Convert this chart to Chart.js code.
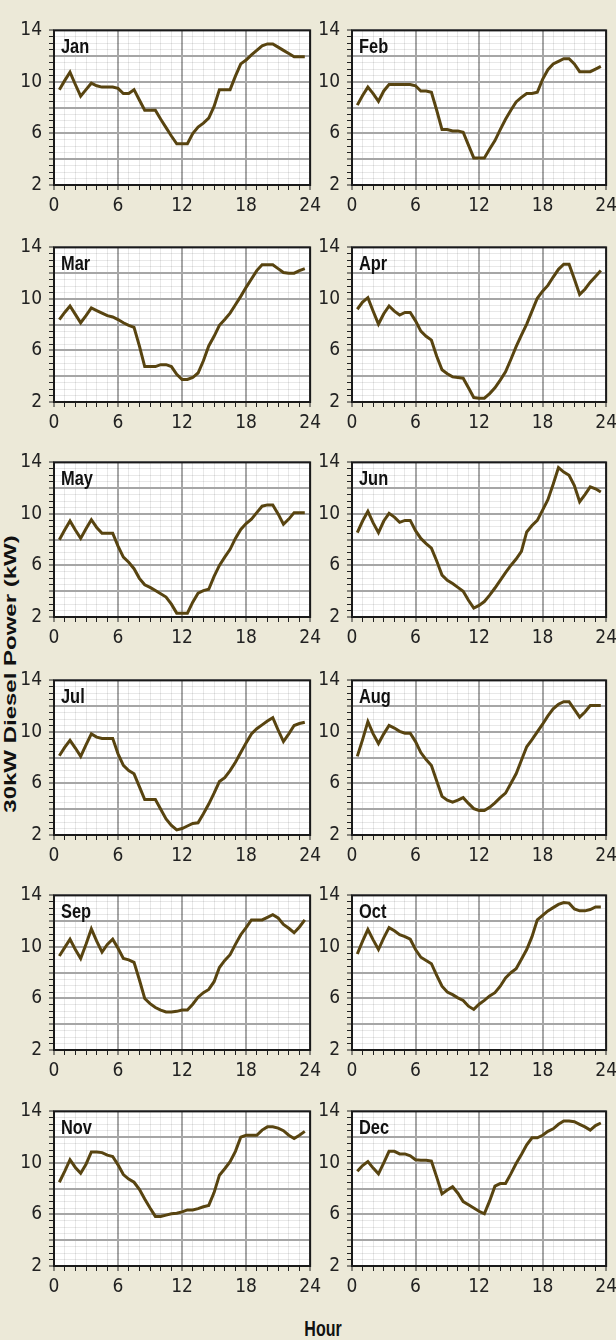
<!DOCTYPE html>
<html>
<head>
<meta charset="utf-8">
<script src="https://cdn.jsdelivr.net/npm/chart.js@4.4.1/dist/chart.umd.min.js"></script>
<style>
  html, body { margin: 0; padding: 0; }
  body {
    width: 616px; height: 1340px; background: #ECE9D8;
    position: relative; overflow: hidden;
    font-family: 'Liberation Sans', Arial, sans-serif;
  }
  canvas { position: absolute; }
  .ytitle {
    position: absolute; left: 11px; top: 674px;
    transform: translate(-50%, -50%) rotate(-90deg) scale(1.5, 1);
    font-weight: bold; font-size: 16px; white-space: nowrap; color: #111;
  }
  .xtitle {
    position: absolute; left: 323px; top: 1329px;
    transform: translate(-50%, -50%) scale(1, 1.4);
    font-weight: bold; font-size: 16px; white-space: nowrap; color: #111;
  }
</style>
</head>
<body>
<div class="ytitle">30kW Diesel Power (kW)</div>
<div class="xtitle">Hour</div>
<script>
// half-hour sample positions (hour of day)
const hours = [0.5, 1, 1.5, 2, 2.5, 3, 3.5, 4, 4.5, 5, 5.5, 6, 6.5, 7, 7.5, 8,
  8.5, 9, 9.5, 10, 10.5, 11, 11.5, 12, 12.5, 13, 13.5, 14, 14.5, 15, 15.5, 16,
  16.5, 17, 17.5, 18, 18.5, 19, 19.5, 20, 20.5, 21, 21.5, 22, 22.5, 23, 23.5];

const months = ["Jan", "Feb", "Mar", "Apr", "May", "Jun",
  "Jul", "Aug", "Sep", "Oct", "Nov", "Dec"];

// diesel output in kW
const jan = [9.4, 10.1, 10.75, 9.8, 8.9, 9.4, 9.9, 9.7, 9.6, 9.6, 9.6, 9.5, 9.1, 9.1, 9.4,
  8.6, 7.8, 7.8, 7.8, 7.1, 6.45, 5.8, 5.2, 5.2, 5.2, 6.0, 6.5, 6.8, 7.2, 8.1, 9.4,
  9.4, 9.4, 10.45, 11.4, 11.7, 12.1, 12.45, 12.8, 12.95, 12.95, 12.7, 12.45, 12.2, 11.95, 11.95, 11.95];
const feb = [8.2, 8.95, 9.6, 9.1, 8.5, 9.3, 9.8, 9.8, 9.8, 9.8, 9.8, 9.7, 9.3, 9.3, 9.2,
  7.8, 6.3, 6.3, 6.2, 6.2, 6.1, 5.1, 4.1, 4.1, 4.1, 4.8, 5.45, 6.3, 7.1, 7.8, 8.45,
  8.8, 9.1, 9.1, 9.2, 10.2, 10.95, 11.4, 11.6, 11.8, 11.8, 11.4, 10.8, 10.8, 10.8, 11.0, 11.2];
const mar = [8.4, 8.95, 9.45, 8.8, 8.15, 8.7, 9.3, 9.1, 8.9, 8.7, 8.6, 8.4, 8.15, 7.95, 7.8,
  6.35, 4.75, 4.75, 4.75, 4.9, 4.9, 4.75, 4.15, 3.75, 3.75, 3.9, 4.25, 5.2, 6.35, 7.1, 7.95,
  8.4, 8.9, 9.55, 10.2, 10.9, 11.55, 12.2, 12.65, 12.65, 12.65, 12.35, 12.05, 12.0, 12.0, 12.2, 12.35];
const apr = [9.2, 9.75, 10.1, 9.05, 8.05, 8.85, 9.45, 9.05, 8.75, 8.95, 8.95, 8.3, 7.5, 7.1, 6.8,
  5.55, 4.5, 4.2, 3.95, 3.9, 3.85, 3.1, 2.35, 2.3, 2.3, 2.65, 3.1, 3.7, 4.35, 5.3, 6.3,
  7.2, 8.05, 9.05, 10.05, 10.6, 11.05, 11.7, 12.3, 12.7, 12.7, 11.55, 10.35, 10.75, 11.3, 11.75, 12.2];
const may = [8.0, 8.75, 9.45, 8.75, 8.1, 8.85, 9.55, 8.95, 8.5, 8.5, 8.5, 7.5, 6.65, 6.25, 5.75,
  5.0, 4.5, 4.3, 4.05, 3.8, 3.55, 3.0, 2.3, 2.3, 2.3, 3.15, 3.85, 4.05, 4.15, 5.15, 6.0,
  6.65, 7.25, 8.1, 8.8, 9.25, 9.6, 10.1, 10.6, 10.7, 10.7, 10.0, 9.2, 9.6, 10.1, 10.1, 10.1];
const jun = [8.55, 9.45, 10.2, 9.3, 8.55, 9.45, 10.05, 9.75, 9.35, 9.5, 9.5, 8.7, 8.1, 7.7, 7.35,
  6.35, 5.25, 4.85, 4.6, 4.3, 4.0, 3.3, 2.7, 2.9, 3.2, 3.7, 4.25, 4.85, 5.45, 6.0, 6.5,
  7.1, 8.6, 9.1, 9.5, 10.3, 11.1, 12.3, 13.6, 13.25, 13.0, 12.2, 10.95, 11.5, 12.1, 11.95, 11.7];
const jul = [8.15, 8.8, 9.35, 8.75, 8.1, 9.0, 9.85, 9.6, 9.5, 9.5, 9.5, 8.3, 7.4, 7.0, 6.75,
  5.75, 4.75, 4.75, 4.75, 4.0, 3.25, 2.75, 2.4, 2.5, 2.7, 2.9, 2.95, 3.65, 4.4, 5.25, 6.15,
  6.45, 7.0, 7.65, 8.4, 9.15, 9.85, 10.25, 10.55, 10.85, 11.1, 10.15, 9.25, 9.85, 10.5, 10.65, 10.75];
const aug = [8.1, 9.4, 10.8, 9.85, 9.1, 9.85, 10.5, 10.3, 10.05, 9.9, 9.9, 9.25, 8.4, 7.85, 7.4,
  6.2, 5.0, 4.7, 4.55, 4.7, 4.9, 4.45, 4.05, 3.9, 3.9, 4.15, 4.5, 4.9, 5.25, 6.0, 6.75,
  7.8, 8.85, 9.4, 10.0, 10.6, 11.25, 11.8, 12.15, 12.35, 12.35, 11.75, 11.15, 11.55, 12.05, 12.05, 12.05];
const sep = [9.3, 9.95, 10.6, 9.8, 9.1, 10.2, 11.4, 10.45, 9.6, 10.2, 10.6, 9.9, 9.1, 9.0, 8.8,
  7.45, 6.0, 5.6, 5.3, 5.1, 4.95, 4.95, 5.0, 5.1, 5.1, 5.55, 6.1, 6.45, 6.7, 7.3, 8.4,
  8.95, 9.4, 10.2, 10.95, 11.5, 12.1, 12.1, 12.1, 12.3, 12.5, 12.25, 11.75, 11.45, 11.1, 11.55, 12.1];
const oct = [9.45, 10.45, 11.35, 10.55, 9.8, 10.7, 11.5, 11.25, 10.95, 10.8, 10.6, 9.8, 9.2, 8.95, 8.7,
  7.8, 6.95, 6.5, 6.3, 6.05, 5.85, 5.4, 5.15, 5.55, 5.85, 6.2, 6.45, 6.95, 7.6, 8.0, 8.3,
  9.05, 9.8, 10.8, 12.1, 12.45, 12.8, 13.05, 13.3, 13.45, 13.4, 12.95, 12.8, 12.8, 12.9, 13.1, 13.1];
const nov = [8.5, 9.35, 10.25, 9.65, 9.2, 9.9, 10.85, 10.85, 10.8, 10.6, 10.5, 9.85, 9.1, 8.75, 8.5,
  7.95, 7.2, 6.5, 5.85, 5.85, 5.95, 6.05, 6.1, 6.2, 6.35, 6.35, 6.45, 6.6, 6.7, 7.7, 9.05,
  9.55, 10.1, 10.9, 12.0, 12.15, 12.15, 12.15, 12.55, 12.8, 12.8, 12.7, 12.5, 12.15, 11.9, 12.15, 12.45];
const dec = [9.35, 9.8, 10.1, 9.6, 9.15, 10.0, 10.9, 10.9, 10.7, 10.7, 10.55, 10.25, 10.2, 10.2, 10.15,
  8.9, 7.6, 7.9, 8.15, 7.65, 7.0, 6.75, 6.5, 6.25, 6.05, 7.05, 8.2, 8.4, 8.4, 9.15, 9.95,
  10.65, 11.4, 11.95, 11.95, 12.15, 12.45, 12.65, 13.0, 13.25, 13.25, 13.2, 13.0, 12.8, 12.55, 12.9, 13.1];

const series = [jan, feb, mar, apr, may, jun, jul, aug, sep, oct, nov, dec];

// layout of the 6x2 grid (top edge of each plot area)
const rowTops = [24, 241, 456, 674, 889, 1105];
const plotHeight = 161;

const lineColor = "#584410";
const majorGrid = "#A6A6A6";
const minorGrid = "rgba(0, 0, 0, 0.09)";
const tickFont = { family: "'Liberation Sans Narrow', 'DejaVu Sans Condensed', sans-serif", size: 19 };

// white plot background, black frame and month name inside the plot
const panelFrame = {
  id: "panelFrame",
  beforeDraw(chart) {
    const { ctx, chartArea: a } = chart;
    ctx.save();
    ctx.fillStyle = "#ffffff";
    ctx.fillRect(a.left, a.top, a.width, a.height);
    ctx.restore();
  },
  afterDraw(chart, args, opts) {
    const { ctx, chartArea: a } = chart;
    ctx.save();
    ctx.strokeStyle = "#1a1a1a";
    ctx.lineWidth = 2;
    ctx.strokeRect(a.left, a.top, a.width, a.height);
    ctx.fillStyle = "#111";
    ctx.font = "bold 20px 'Liberation Sans', sans-serif";
    ctx.textBaseline = "alphabetic";
    ctx.translate(a.left + 7, a.top + 23);
    ctx.scale(0.82, 1.05);
    ctx.fillText(opts.text, 0, 0);
    ctx.restore();
  },
};

function makePanel(i) {
  const col = i % 2;
  const row = Math.floor(i / 2);
  const left = col === 0 ? 20 : 316;
  const yAxisW = col === 0 ? 34 : 36;
  const padRight = col === 0 ? 15 : 14;

  const canvas = document.createElement("canvas");
  canvas.width = 306;
  canvas.height = 12 + plotHeight + 30;
  canvas.style.left = left + "px";
  canvas.style.top = rowTops[row] - 12 + "px";
  document.body.appendChild(canvas);

  new Chart(canvas, {
    type: "line",
    data: {
      datasets: [
        {
          data: hours.map((h, k) => ({ x: h, y: series[i][k] })),
          borderColor: lineColor,
          borderWidth: 3,
          pointRadius: 0,
          tension: 0,
          fill: false,
        },
      ],
    },
    options: {
      responsive: false,
      animation: false,
      events: [],
      layout: { padding: { left: 0, right: padRight, top: 12, bottom: 0 } },
      plugins: {
        legend: { display: false },
        tooltip: { enabled: false },
        panelFrame: { text: months[i] },
      },
      scales: {
        x: {
          type: "linear",
          min: 0,
          max: 24,
          afterFit: (s) => { s.height = 30; },
          ticks: {
            stepSize: 1,
            autoSkip: false,
            maxRotation: 0,
            padding: 5,
            color: "#222",
            font: tickFont,
            callback: (v) => (v % 6 === 0 ? v : ""),
          },
          grid: {
            color: (c) => (c.tick.value % 6 === 0 ? majorGrid : minorGrid),
            lineWidth: (c) => (c.tick.value % 6 === 0 ? 2 : 1),
            tickColor: "#222",
            tickLength: 5,
            tickWidth: 1,
          },
          border: { display: false },
        },
        y: {
          min: 2,
          max: 14,
          afterFit: (s) => { s.width = yAxisW; },
          ticks: {
            stepSize: 0.5,
            autoSkip: false,
            padding: 7,
            color: "#222",
            font: tickFont,
            callback: (v) => (v % 4 === 2 ? v : ""),
          },
          grid: {
            color: (c) => (c.tick.value % 2 === 0 ? majorGrid : minorGrid),
            lineWidth: (c) => (c.tick.value % 2 === 0 ? 2 : 1),
            tickColor: "#222",
            tickLength: 5,
            tickWidth: 1,
          },
          border: { display: false },
        },
      },
    },
    plugins: [panelFrame],
  });
}

months.forEach((m, i) => makePanel(i));
</script>
</body>
</html>
